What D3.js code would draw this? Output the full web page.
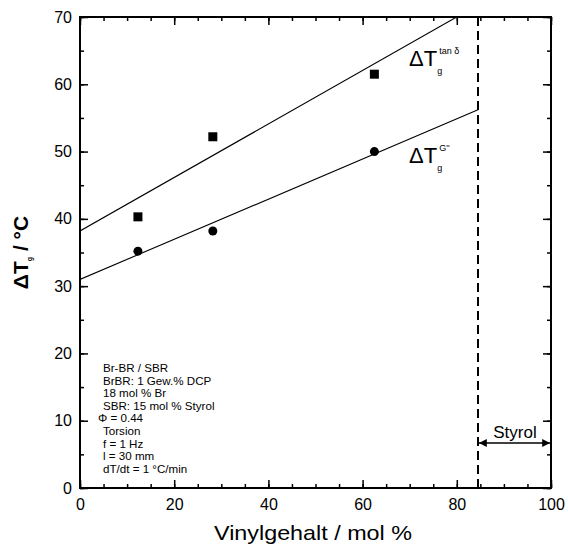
<!DOCTYPE html>
<html><head><meta charset="utf-8">
<script src="https://cdn.jsdelivr.net/npm/d3@7"></script>
<style>body{margin:0;background:#fff}svg{font-family:Arial,"Liberation Sans",sans-serif}</style>
</head><body>
<svg id="c" width="568" height="546"></svg>
<script>
const xTicks = [0,20,40,60,80,100];
const yTicks = [0,10,20,30,40,50,60,70];
const vinylTan = [12.3, 28.2, 62.5];
const dTgTan = [40.3, 52.2, 61.5];
const vinylG = [12.3, 28.2, 62.5];
const dTgG = [35.2, 38.2, 50.0];
const fitTan = [[0,38.2],[84.5,71.8]];
const fitG = [[0,31.0],[84.5,56.2]];
const styrolLimit = 84.5;
const infoLines = ["Br-BR / SBR","BrBR: 1 Gew.% DCP","18 mol % Br","SBR: 15 mol % Styrol","\u03A6 = 0.44","Torsion","f = 1 Hz","l = 30 mm","dT/dt = 1 \u00B0C/min"];

const svg = d3.select("#c");
const m = {l:80, r:551, t:17, b:488};
const x = d3.scaleLinear().domain([0,100]).range([m.l,m.r]);
const y = d3.scaleLinear().domain([0,70]).range([m.b,m.t]);

svg.append("defs").append("clipPath").attr("id","clip").append("rect")
  .attr("x",m.l).attr("y",m.t).attr("width",m.r-m.l).attr("height",m.b-m.t);

const xMinor = d3.range(0,101,5), yMinor = d3.range(0,71,5);
function axisSet(){
  const g = svg.append("g");
  g.append("g").attr("transform",`translate(0,${m.b})`).call(d3.axisBottom(x).tickValues(xMinor).tickSize(-4).tickFormat(""));
  g.append("g").attr("transform",`translate(0,${m.t})`).call(d3.axisTop(x).tickValues(xMinor).tickSize(-4).tickFormat(""));
  g.append("g").attr("transform",`translate(${m.l},0)`).call(d3.axisLeft(y).tickValues(yMinor).tickSize(-4).tickFormat(""));
  g.append("g").attr("transform",`translate(${m.r},0)`).call(d3.axisRight(y).tickValues(yMinor).tickSize(-4).tickFormat(""));
  g.append("g").attr("transform",`translate(0,${m.b})`).call(d3.axisBottom(x).tickValues(xTicks).tickSize(-8).tickFormat(""));
  g.append("g").attr("transform",`translate(0,${m.t})`).call(d3.axisTop(x).tickValues(xTicks).tickSize(-8).tickFormat(""));
  g.append("g").attr("transform",`translate(${m.l},0)`).call(d3.axisLeft(y).tickValues(yTicks).tickSize(-8).tickFormat(""));
  g.append("g").attr("transform",`translate(${m.r},0)`).call(d3.axisRight(y).tickValues(yTicks).tickSize(-8).tickFormat(""));
  g.selectAll("path.domain").remove();
  g.selectAll("line").attr("stroke","#000").attr("stroke-width",1.5);
}
axisSet();

const xl = svg.append("g").attr("transform",`translate(0,${m.b})`).call(d3.axisBottom(x).tickValues(xTicks).tickSize(0).tickPadding(10).tickFormat(d3.format("d")));
const yl = svg.append("g").attr("transform",`translate(${m.l},0)`).call(d3.axisLeft(y).tickValues(yTicks).tickSize(0).tickPadding(8).tickFormat(d3.format("d")));
[xl,yl].forEach(g=>{g.select("path.domain").remove(); g.selectAll("text").attr("font-size",16).attr("font-family","Arial, Liberation Sans").attr("fill","#000");});
xl.selectAll("text").attr("dy","0.75em");

svg.append("rect").attr("x",m.l).attr("y",m.t).attr("width",m.r-m.l).attr("height",m.b-m.t)
  .attr("fill","none").attr("stroke","#000").attr("stroke-width",2);

const line = d3.line().x(d=>x(d[0])).y(d=>y(d[1]));
const plot = svg.append("g").attr("clip-path","url(#clip)");
[fitTan, fitG].forEach(f=>plot.append("path").attr("d",line(f)).attr("fill","none").attr("stroke","#000").attr("stroke-width",1.1));

svg.append("line").attr("x1",x(styrolLimit)).attr("x2",x(styrolLimit)).attr("y1",y(70)).attr("y2",y(0))
  .attr("stroke","#000").attr("stroke-width",2).attr("stroke-dasharray","9,5");

svg.append("g").selectAll("rect").data(vinylTan.map((v,i)=>[v,dTgTan[i]])).join("rect")
  .attr("x",d=>x(d[0])-4.5).attr("y",d=>y(d[1])-4.5).attr("width",9).attr("height",9).attr("fill","#000");
svg.append("g").selectAll("circle").data(vinylG.map((v,i)=>[v,dTgG[i]])).join("circle")
  .attr("cx",d=>x(d[0])).attr("cy",d=>y(d[1])).attr("r",4.5).attr("fill","#000");

svg.append("text").attr("x",214).attr("y",540)
  .attr("font-size",21).attr("textLength",198).attr("lengthAdjust","spacingAndGlyphs").text("Vinylgehalt / mol %");
const yt = svg.append("text").attr("transform",`translate(28,${(m.t+m.b)/2}) rotate(-90)`).attr("text-anchor","middle")
  .attr("font-size",21).attr("font-weight","bold");
yt.append("tspan").text("\u0394T");
yt.append("tspan").attr("font-size",7).attr("dy",4).text("g");
yt.append("tspan").attr("dy",-4).text(" / \u00B0C");

function curveLabel(px,py,sup){
  const t = svg.append("text").attr("x",px).attr("y",py).attr("font-size",22);
  t.append("tspan").text("\u0394T");
  t.append("tspan").attr("font-size",9).attr("dy",8).text("g");
  t.append("tspan").attr("font-size",9).attr("dx",-3).attr("dy",-20).text(sup);
}
curveLabel(409,66,"tan  \u03B4");
curveLabel(409,163,"G''");

svg.append("text").attr("x",515).attr("y",438).attr("text-anchor","middle").attr("font-size",17).text("Styrol");
svg.append("defs").html('<marker id="ah" viewBox="0 0 10 10" refX="10" refY="5" markerWidth="8" markerHeight="6" orient="auto-start-reverse"><path d="M0,0 L10,5 L0,10 z" fill="#000"/></marker>');
svg.append("line").attr("x1",x(styrolLimit)+1).attr("x2",x(100)-1).attr("y1",443).attr("y2",443)
  .attr("stroke","#000").attr("stroke-width",1.3).attr("marker-start","url(#ah)").attr("marker-end","url(#ah)");

svg.append("g").selectAll("text").data(infoLines).join("text")
  .attr("x",(d,i)=>i===4?98:103).attr("y",(d,i)=>372+i*12.6).attr("font-size",11.6).text(d=>d);
</script>
</body></html>
